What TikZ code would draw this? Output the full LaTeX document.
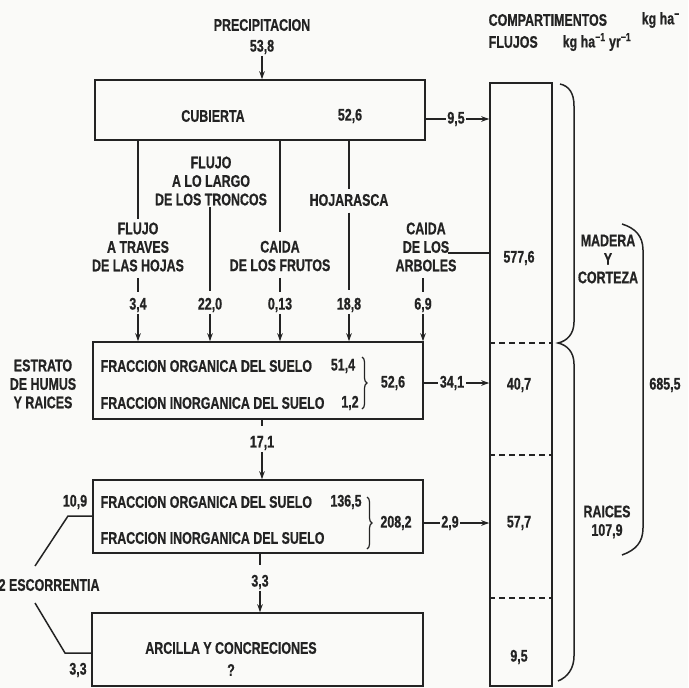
\documentclass[tikz,border=0pt]{standalone}
\usepackage{fontspec}
\setmainfont{Liberation Sans}[FakeStretch=0.74,FakeBold=0.7]
\usetikzlibrary{arrows.meta,decorations.pathreplacing}
\definecolor{ink}{RGB}{35,35,35}
\definecolor{paper}{RGB}{250,250,248}
\begin{document}
\begin{tikzpicture}[x=1pt,y=-1pt,
  txt/.style={font=\fontsize{16.8}{18.5}\selectfont\bfseries, text=ink, inner sep=1.5pt, align=center},
  box/.style={draw=ink, line width=1.5pt, inner sep=0pt},
  ln/.style={draw=ink, line width=1.5pt},
  arr/.style={ln, -{Stealth[length=8pt,width=5.5pt]}},
  brc/.style={ln, line width=1.2pt, decorate, decoration={brace, amplitude=5pt}},
  dsh/.style={ln, dash pattern=on 6pt off 4pt}]
\fill[paper] (0,0) rectangle (688,688);
\useasboundingbox (0,0) rectangle (688,688);

% header
\node[txt, anchor=west] (hc) at (487,20) {COMPARTIMENTOS};
\node[txt, anchor=west] (hcu) at (640,20) {kg ha\textsuperscript{−}};
\node[txt, anchor=west] (hf) at (487,42) {FLUJOS};
\node[txt, anchor=west] (hfu) at (561,42) {kg ha\textsuperscript{−1} yr\textsuperscript{−1}};

% boxes
\node[box, minimum width=330pt, minimum height=60pt] (cub) at (260,110) {};
\node[box, minimum width=330pt, minimum height=77pt] (hum) at (258,380.5) {};
\node[box, minimum width=330pt, minimum height=73pt] (b3) at (258,516.5) {};
\node[box, minimum width=331pt, minimum height=73pt] (b4) at (257.5,649.5) {};
\node[box, minimum width=62pt, minimum height=603pt] (col) at (521,384.5) {};

% precipitation
\node[txt] (prec) at (262,25) {PRECIPITACION};
\node[txt] (p538) at (262,47) {53,8};
\draw[arr] (p538.south) -- (p538.south |- cub.north);

% cubierta
\node[txt] (cubl) at (213,116) {CUBIERTA};
\node[txt] (cubv) at (350,116) {52,6};
\node[txt] (v95) at (456,119) {9,5};
\draw[ln] (cub.east |- v95) -- (v95.west);
\draw[arr] (v95.east) -- (col.west |- v95);

% flow labels
\node[txt] (l1) at (138,247) {FLUJO\\A TRAVES\\DE LAS HOJAS};
\node[txt] (l2) at (211,181) {FLUJO\\A LO LARGO\\DE LOS TRONCOS};
\node[txt] (l3) at (280,256) {CAIDA\\DE LOS FRUTOS};
\node[txt] (l4) at (349,200) {HOJARASCA};
\node[txt] (l5) at (426,247) {CAIDA\\DE LOS\\ARBOLES};
\coordinate (l5c) at (448,253);

\node[txt] (n1) at (138,305) {3,4};
\node[txt] (n2) at (210,305) {22,0};
\node[txt] (n3) at (280,305) {0,13};
\node[txt] (n4) at (349,305) {18,8};
\node[txt] (n5) at (423,305) {6,9};

\draw[ln, shorten >=2pt] (cub.south -| l1) -- (l1.north);
\draw[ln, shorten <=5pt, shorten >=4pt] (l1.south) -- (n1.north);
\draw[ln, shorten >=5pt] (l2.south -| n2) -- (n2.north);
\draw[ln, shorten >=7pt] (cub.south -| l3) -- (l3.north);
\draw[ln, shorten <=5pt, shorten >=4pt] (l3.south) -- (n3.north);
\draw[ln, shorten >=3pt] (cub.south -| l4) -- (l4.north);
\draw[ln, shorten <=5pt, shorten >=6pt] (l4.south) -- (n4.north);
\draw[ln] (col.west |- l5c) -- (l5c);
\draw[ln, shorten <=5pt, shorten >=4pt] (l5.south -| n5) -- (n5.north);

\foreach \n in {n1,n2,n3,n4,n5}
  \draw[arr] (\n.south) -- (\n.south |- hum.north);

% humus
\node[txt] (est) at (43,384) {ESTRATO\\DE HUMUS\\Y RAICES};
\node[txt, anchor=west] (h1) at (99,366) {FRACCION ORGANICA DEL SUELO};
\node[txt] (h1v) at (343,366) {51,4};
\node[txt, anchor=west] (h2) at (99,403) {FRACCION INORGANICA DEL SUELO};
\node[txt] (h2v) at (350,403) {1,2};
\coordinate (hb1) at (362,357);
\coordinate (hb2) at (362,409);
\draw[brc] (hb1) -- (hb2);
\node[txt] (hv) at (393,383) {52,6};
\node[txt] (v341) at (452,383) {34,1};
\draw[ln] (hum.east |- v341) -- (v341.west);
\draw[arr] (v341.east) -- (col.west |- v341);

\node[txt] (n171) at (262,443) {17,1};
\draw[ln, shorten >=8pt] (hum.south -| n171) -- (n171.north);
\draw[arr] (n171.south) -- (n171.south |- b3.north);

% box 3
\node[txt, anchor=west] (g1) at (99,502) {FRACCION ORGANICA DEL SUELO};
\node[txt] (g1v) at (346,502) {136,5};
\node[txt, anchor=west] (g2) at (99,538) {FRACCION INORGANICA DEL SUELO};
\coordinate (gb1) at (367,497);
\coordinate (gb2) at (367,549);
\draw[brc] (gb1) -- (gb2);
\node[txt] (gv) at (396,523) {208,2};
\node[txt] (v29) at (450,523) {2,9};
\draw[ln] (b3.east |- v29) -- (v29.west);
\draw[arr] (v29.east) -- (col.west |- v29);

\node[txt] (n33) at (260,582) {3,3};
\draw[ln, shorten >=8pt] (b3.south -| n33) -- (n33.north);
\draw[arr] (n33.south) -- (n33.south |- b4.north);

% box 4
\node[txt] (arc) at (231,648) {ARCILLA Y CONCRECIONES};
\node[txt] (q) at (231,670) {?};

% escorrentia
\node[txt] (n109) at (75,502) {10,9};
\node[txt] (n33b) at (78,670) {3,3};
\node[txt, anchor=west] (esc) at (-3,585) {2 ESCORRENTIA};
\coordinate (e1) at (68,516);
\coordinate (e2) at (35,566);
\coordinate (e3) at (35,603);
\coordinate (e4) at (65,653);
\draw[ln] (b3.west |- e1) -- (e1) -- (e2);
\draw[ln] (e3) -- (e4) -- (b4.west |- e4);

% column
\coordinate (d1) at (521,343);
\coordinate (d2) at (521,455);
\coordinate (d3) at (521,598);
\foreach \d in {d1,d2,d3}
  \draw[dsh] (col.west |- \d) -- (col.east |- \d);
\node[txt] (c1) at (519,258) {577,6};
\node[txt] (c2) at (519,385) {40,7};
\node[txt] (c3) at (519,523) {57,7};
\node[txt] (c4) at (519,657) {9,5};

% brackets
\draw[ln] (560,84) .. controls (569,86) and (574,93) .. (574,106) -- (574,322)
  .. controls (574,334) and (567,341) .. (558,343)
  .. controls (567,345) and (574,352) .. (574,364) -- (574,656)
  .. controls (574,668) and (568,677) .. (558,681);
\draw[ln] (622,224) .. controls (635,228) and (643,236) .. (643,250) -- (643,528)
  .. controls (643,542) and (636,550) .. (622,555);

\node[txt] (mad) at (608,259) {MADERA\\Y\\CORTEZA};
\node[txt] (rai) at (607,522) {RAICES\\107,9};
\node[txt] (tot) at (665,385) {685,5};
\end{tikzpicture}
\end{document}
